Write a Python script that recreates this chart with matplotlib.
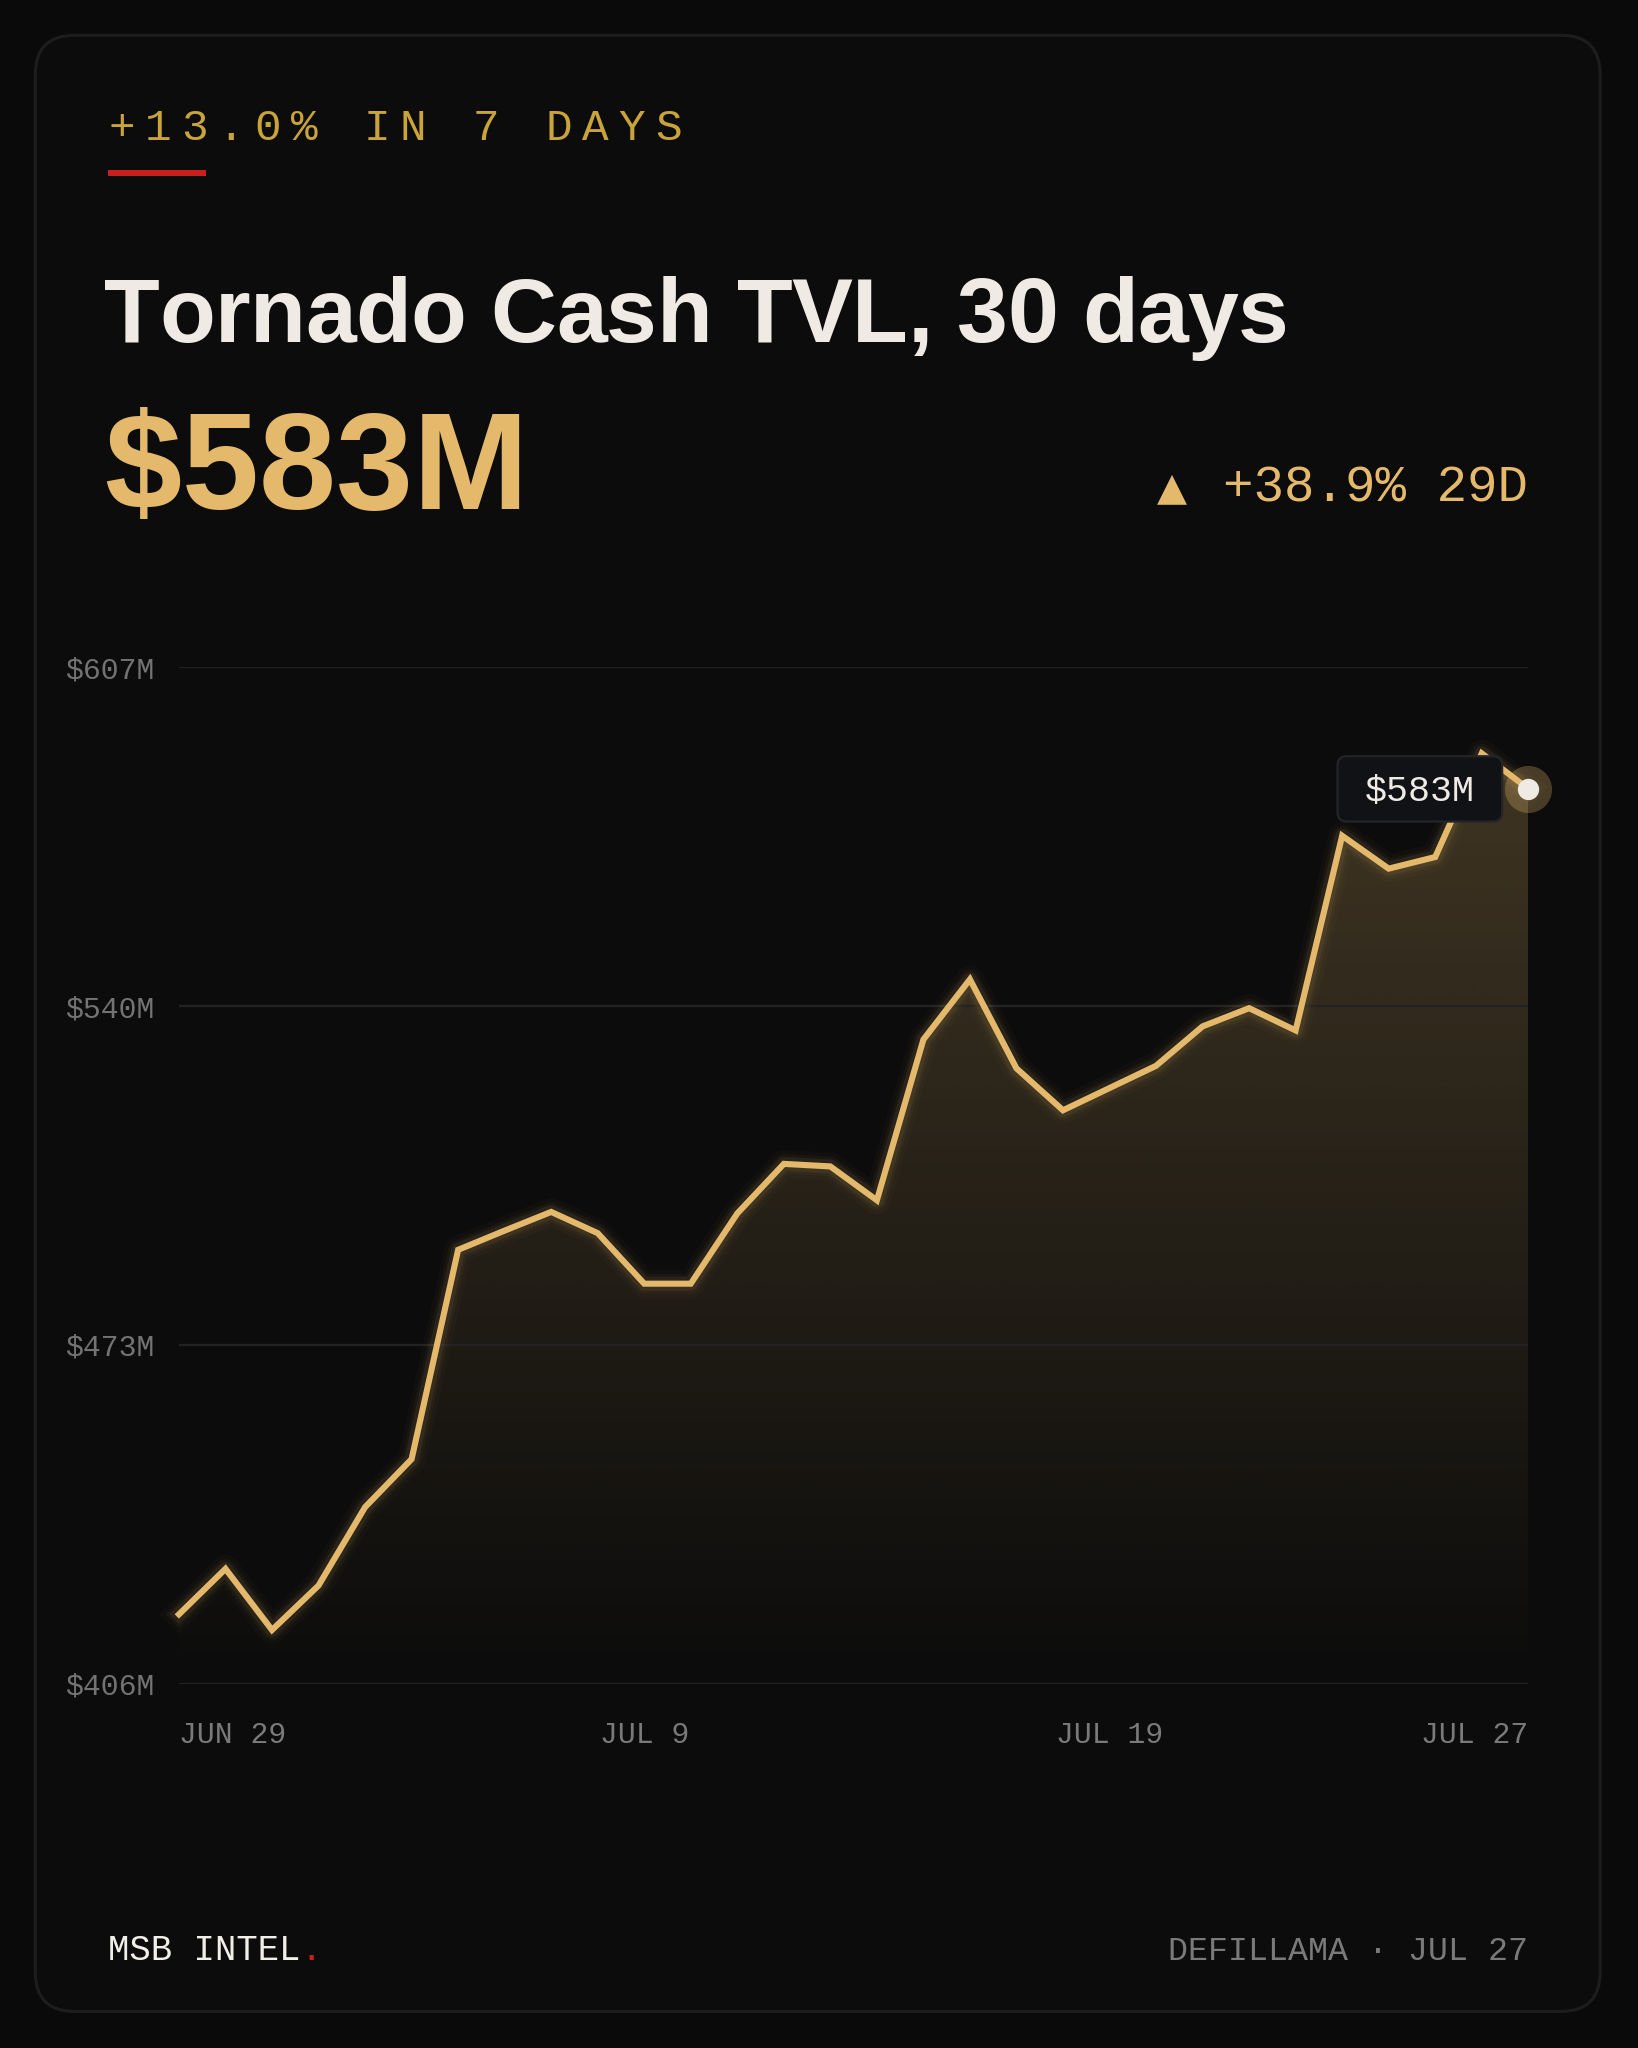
import matplotlib
matplotlib.use("Agg")
import matplotlib.pyplot as plt
import numpy as np
from matplotlib.patches import FancyBboxPatch, Polygon, Rectangle
from matplotlib import font_manager
from matplotlib.ft2font import FT2Font

# ---------------- data ----------------
tvl_musd = [419.7, 428.7, 416.6, 425.4, 440.9, 450.4, 491.8, 495.6, 499.3, 495.1,
            485.1, 485.1, 499.0, 508.8, 508.3, 501.6, 533.4, 545.3, 527.7, 519.4,
            523.8, 528.2, 536.0, 539.6, 535.2, 573.7, 567.2, 569.5, 590.0, 583.0]
x_tick_idx = [0, 10, 20, 29]
x_tick_labels = ["JUN 29", "JUL 9", "JUL 19", "JUL 27"]
y_ticks = [406, 473, 540, 607]
y_tick_labels = ["$406M", "$473M", "$540M", "$607M"]
kicker = "+13.0% IN 7 DAYS"
title = "Tornado Cash TVL, 30 days"
headline = "$583M"
change_text = "+38.9% 29D"
tooltip_text = "$583M"
brand = "MSB INTEL"
source = "DEFILLAMA \u00b7 JUL 27"

# ---------------- geometry helpers ----------------
W, H = 1254.0, 1568.0          # layout units
PT = 1638.0 / W * 0.72         # layout unit -> points (dpi 100)

MONO = "Liberation Mono"
SANS = "Liberation Sans"
GOLD = "#e4b96c"
KICK = "#c9a43a"
RED = "#c8201f"
OFFW = "#efebe4"
GREY = "#737373"

fig = plt.figure(figsize=(16.38, 20.48), dpi=100, facecolor="#0a0a0a")
bg = fig.add_axes([0, 0, 1, 1])
bg.set_xlim(0, W)
bg.set_ylim(H, 0)
bg.axis("off")
bg.set_zorder(0)

card = FancyBboxPatch((27, 27), 1198, 1513, boxstyle="round,pad=0,rounding_size=30",
                      fc="#0c0c0c", ec="#1d1d20", lw=2.2)
bg.add_patch(card)


def advances(s, family, weight, size_units):
    path = font_manager.findfont(font_manager.FontProperties(family=family, weight=weight))
    f = FT2Font(path)
    f.set_size(size_units * PT, 72)
    out = []
    for ch in s:
        g = f.load_char(ord(ch))
        out.append(g.linearHoriAdvance / 65536.0 / PT)
    return out


def tracked(x, y, s, size, tracking, family, weight, color, ha="left"):
    adv = advances(s, family, weight, size)
    total = sum(adv) + tracking * (len(s) - 1)
    cur = x - total if ha == "right" else x
    for ch, a in zip(s, adv):
        bg.text(cur, y, ch, fontsize=size * PT, family=family, weight=weight,
                color=color, ha="left", va="baseline")
        cur += a + tracking


# ---------------- header ----------------
kick_size = 34
kick_adv = advances("0", MONO, "normal", kick_size)[0]
tracked(83, 107, kicker, kick_size, 27.9 - kick_adv, MONO, "normal", KICK)
bg.add_patch(Rectangle((83, 130), 75, 4.5, fc=RED, ec="none"))

tracked(80, 262, title, 70, -0.5, SANS, "bold", OFFW)
tracked(80, 390, headline, 106, 0.0, SANS, "bold", GOLD)

bg.text(1170, 384, change_text, fontsize=39 * PT, family=MONO, color=GOLD,
        ha="right", va="baseline")
bg.text(886, 382, "\u25b2", fontsize=30 * PT, family="DejaVu Sans", color=GOLD,
        ha="left", va="baseline")

# ---------------- chart ----------------
ax = fig.add_axes([137 / W, 1 - 1289 / H, (1170 - 137) / W, (1289 - 511) / H])
ax.set_facecolor("none")
ax.set_zorder(1)
x = np.arange(len(tvl_musd))
y = np.array(tvl_musd)
ax.set_xlim(0, len(tvl_musd) - 1)
ax.set_ylim(y_ticks[0], y_ticks[-1])

# gradient area
grad = np.zeros((256, 1, 4))
gc = matplotlib.colors.to_rgb(GOLD)
grad[..., 0], grad[..., 1], grad[..., 2] = gc
grad[:, 0, 3] = np.linspace(0.0, 0.26, 256)
im = ax.imshow(grad, extent=[0, len(y) - 1, y_ticks[0], y_ticks[-1]], origin="lower",
               aspect="auto", zorder=0.3, interpolation="bilinear")
verts = [(0, y_ticks[0])] + list(zip(x, y)) + [(len(y) - 1, y_ticks[0])]
clip = Polygon(verts, closed=True, transform=ax.transData)
im.set_clip_path(clip)

# glow + line
for lw, a in [(20, 0.025), (14, 0.045), (10, 0.08)]:
    ax.plot(x, y, color=GOLD, lw=lw, alpha=a, solid_joinstyle="round", zorder=1.5, clip_on=False)
ax.plot(x, y, color=GOLD, lw=4.4, solid_joinstyle="miter", zorder=2, clip_on=False)

# grid / ticks
ax.set_axisbelow(True)
ax.grid(axis="y", color="#222222", lw=1.7)
ax.grid(axis="x", visible=False)
for s in ax.spines.values():
    s.set_visible(False)
ax.set_yticks(y_ticks)
ax.set_yticklabels(y_tick_labels, family=MONO, fontsize=22.8 * PT, color=GREY)
ax.set_xticks(x_tick_idx)
ax.set_xticklabels(x_tick_labels, family=MONO, fontsize=22.8 * PT, color="#7a7a7a")
ax.tick_params(axis="y", length=0, pad=17.5)
ax.tick_params(axis="x", length=0, pad=27)
xl = ax.get_xticklabels()
xl[0].set_ha("left")
xl[-1].set_ha("right")

# end point marker
ax.scatter([x[-1]], [y[-1]], s=1150, color=GOLD, alpha=0.28, lw=0, zorder=3, clip_on=False)
ax.scatter([x[-1]], [y[-1]], s=235, color=OFFW, lw=0, zorder=4, clip_on=False)

# tooltip
tip = FancyBboxPatch((1024, 579), 126, 50, boxstyle="round,pad=0,rounding_size=7",
                     fc="#111216", ec="#242529", lw=1.6, transform=bg.transData,
                     zorder=5, clip_on=False)
ax.add_patch(tip)
ax.text(1087, 613.5, tooltip_text, transform=bg.transData, fontsize=28 * PT, family=MONO,
        color=OFFW, ha="center", va="baseline", zorder=6, clip_on=False)

# ---------------- footer ----------------
bg.text(83, 1500.5, brand, fontsize=27.3 * PT, family=MONO, color="#f2efe9",
        ha="left", va="baseline")
b_adv = advances(brand, MONO, "normal", 27.3)
bg.text(83 + sum(b_adv), 1500.5, ".", fontsize=27.3 * PT, family=MONO, color=RED,
        ha="left", va="baseline")
bg.text(1170, 1500.5, source, fontsize=25.5 * PT, family=MONO, color="#7a7a7a",
        ha="right", va="baseline")

fig.savefig("out.png", dpi=100, facecolor=fig.get_facecolor())
